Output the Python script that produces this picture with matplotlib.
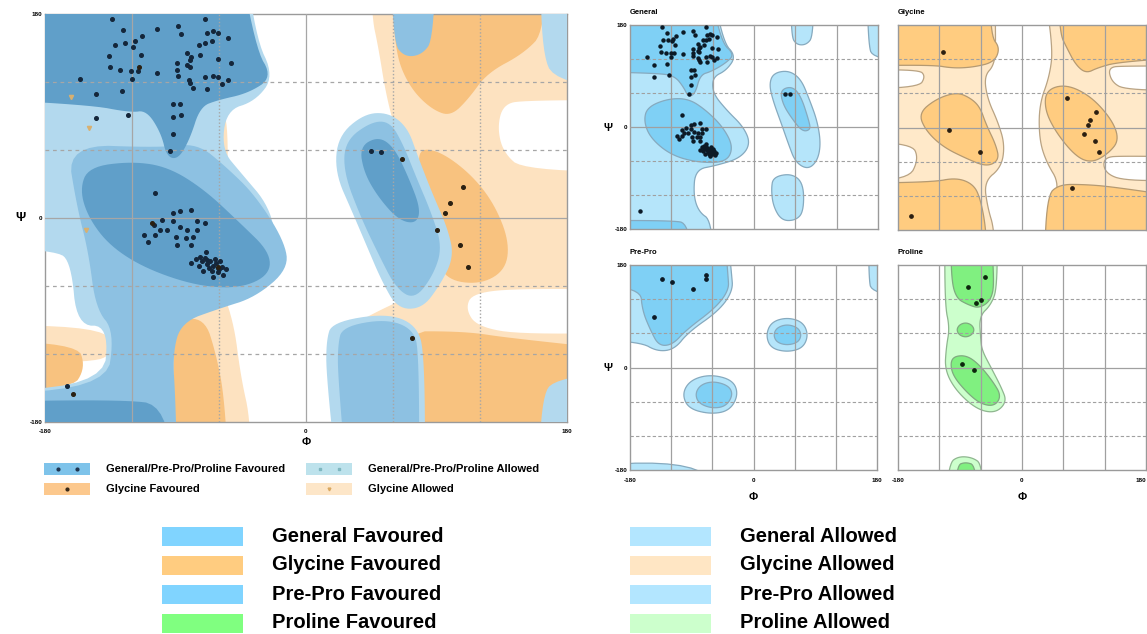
import numpy as np
import matplotlib
matplotlib.use('Agg')
import matplotlib.pyplot as plt
from matplotlib.patches import Rectangle
from matplotlib.lines import Line2D

plt.rcParams['font.family'] = ['Liberation Sans', 'DejaVu Sans']

W, H = 1147, 634

# ---------------- points (phi, psi) ----------------
main_gen_phi = [-134, -70, -126, -103, -88, -86, -68, -64, -61, -54, -113, -118, -125, -132, -119,
                -74, -70, -65, -82, -79, -80, -73, -61, -52, -136, -114, -89, -82, -80, -135,
                -128, -121, -116, -103, -89, -88, -81, -70, -64, -61, -54, -156, -120, -80, -58,
                -78, -68, -145, -127, -92, -87, -145, -123, -92, -86, -92, -94,
                -104, -87, -92, -79, -99, -92, -75, -70, -105, -101, -96, -87, -82, -75, -112,
                -104, -90, -83, -78, -109, -89, -79,
                -79, -73, -68, -61, -62, -64, -60, -66, -68, -63, -58, -65, -70, -72, -61, -67,
                -59, -74, -57, -69, -76, -64, -55, -71,
                45, 52, -165]
main_gen_psi = [176, 176, 166, 167, 169, 162, 163, 165, 163, 159, 161, 156, 154, 153, 151,
                153, 154, 156, 146, 142, 139, 144, 140, 137, 143, 144, 137, 135, 133, 133,
                131, 130, 130, 128, 131, 125, 122, 124, 125, 124, 122, 123, 123, 119, 118,
                115, 114, 109, 112, 101, 101, 88, 91, 89, 91, 74, 59,
                22, 6, 4, 7, -2, -3, -3, -4, -6, -11, -11, -8, -11, -11, -15,
                -15, -17, -18, -17, -21, -24, -24,
                -40, -34, -37, -44, -40, -42, -45, -38, -41, -36, -43, -47, -35, -38, -48, -44,
                -38, -42, -50, -30, -36, -52, -45, -47,
                59, 58, -148]

gly_phi = [66, 108, 99, 96, 90, 106, 112, 73, -115, -106, -61, -161]
gly_psi = [52, 27, 13, 4, -11, -24, -43, -106, 133, -4, -43, -155]

main_gly_allow_phi = [-162, -150, -152]
main_gly_allow_psi = [107, 79, -11]

prepro_phi = [-133, -119, -88, -69, -69, -145]
prepro_psi = [155, 150, 138, 162, 155, 89]

pro_phi = [-53, -79, -67, -59, -87, -69]
pro_psi = [159, 141, 113, 118, 6, -4]

# ---------------- regions (phi, psi outlines; 260 = beyond the frame) ----------------
main_gly_allowed = [
    [(45, 260), (260, 260), (260, -260), (22, -260), (20, -140), (25, -100), (45, -85), (70, -70),
     (88, -40), (85, 0), (75, 40), (62, 75), (55, 110), (50, 150), (45, 180)],
    [(-96, -55), (-62, -50), (-50, -90), (-45, -140), (-38, -180), (-38, -260), (-96, -260), (-98, -120)],
    [(-260, -95), (-138, -95), (-132, -120), (-150, -128), (-260, -128)],
    [(-63, 95), (-54, 95), (-54, 15), (-63, 15)],
]
main_white = [
    [(136, 100), (150, 104), (260, 104), (260, 40), (150, 42), (136, 58), (132, 80)],
    [(115, -66), (150, -62), (260, -64), (260, -100), (150, -103), (118, -96), (110, -80)],
]
main_gly_fav = [
    [(60, 260), (165, 260), (165, 165), (150, 145), (125, 128), (112, 105), (100, 90), (88, 95),
     (75, 110), (66, 130), (62, 150), (60, 180)],
    [(80, 62), (95, 57), (115, 37), (130, 12), (140, -20), (138, -45), (122, -58), (100, -56),
     (90, -40), (88, -10), (82, 25), (77, 50)],
    [(60, -100), (110, -100), (140, -106), (260, -122), (260, -260), (60, -260)],
    [(-90, -90), (-70, -88), (-62, -120), (-56, -160), (-52, -260), (-90, -260), (-92, -140)],
    [(-260, -108), (-158, -110), (-152, -132), (-162, -152), (-260, -152)],
]
main_blue_light = [
    [(-260, 260), (-45, 260), (-35, 160), (-22, 125), (-35, 103), (-55, 95), (-58, 60), (-45, 40),
     (-25, 10), (-20, -25), (-25, -50), (-45, -68), (-65, -78), (-88, -88), (-96, -120), (-94, -160),
     (-90, -260), (-260, -260), (-260, -152), (-140, -150), (-136, -95), (-158, -95), (-162, -40),
     (-172, -28), (-260, -25)],
    [(22, 72), (40, 92), (57, 93), (70, 80), (77, 55), (87, 22), (98, -10), (102, -35), (92, -60),
     (80, -80), (63, -80), (52, -55), (42, -25), (32, 5), (20, 40)],
    [(18, -92), (55, -84), (76, -94), (82, -120), (82, -260), (24, -260), (14, -140), (14, -108)],
    [(162, 260), (260, 260), (260, 110), (172, 118), (162, 150)],
    [(160, -260), (260, -260), (260, -130), (172, -140), (162, -160)],
]
main_blue_mid = [
    [(-165, 65), (-100, 62), (-75, 66), (-55, 45), (-35, 20), (-15, -20), (-12, -45), (-35, -70),
     (-60, -80), (-86, -92), (-92, -120), (-90, -160), (-88, -260), (-260, -260), (-260, -155),
     (-138, -152), (-132, -100), (-145, -80), (-150, -30), (-158, 10)],
    [(27, 68), (45, 85), (58, 85), (67, 65), (76, 36), (86, 6), (94, -25), (88, -50), (75, -72),
     (62, -62), (50, -32), (38, 0), (26, 40)],
    [(25, -96), (55, -89), (74, -98), (78, -120), (78, -260), (30, -260), (22, -140), (22, -112)],
    [(58, 260), (90, 260), (88, 158), (80, 144), (68, 142), (60, 155)],
]
main_blue_dark = [
    [(-260, 260), (-50, 260), (-35, 150), (-23, 124), (-40, 110), (-61, 104), (-73, 98), (-80, 70),
     (-88, 52), (-96, 54), (-100, 75), (-110, 95), (-121, 93), (-150, 100), (-260, 107)],
    [(-150, 45), (-120, 50), (-95, 45), (-70, 25), (-45, -5), (-25, -30), (-25, -50), (-45, -62),
     (-75, -60), (-110, -45), (-135, -25), (-150, 0), (-156, 25)],
    [(-260, -163), (-130, -160), (-95, -165), (-92, -260), (-260, -260)],
    [(37, 63), (50, 72), (61, 62), (71, 35), (79, 8), (76, -5), (64, -2), (50, 18), (40, 40)],
]

gen_allowed = [
    [(-260, 260), (-62, 260), (-45, 150), (-26, 125), (-40, 100), (-60, 88), (-60, 60), (-40, 30),
     (-15, 0), (-5, -30), (-20, -55), (-55, -68), (-85, -75), (-88, -120), (-80, -150), (-62, -165),
     (-58, -260), (-260, -260)],
    [(28, 95), (50, 100), (68, 85), (80, 50), (92, 10), (97, -30), (92, -60), (78, -75), (60, -62),
     (50, -30), (40, 5), (28, 45), (22, 75)],
    [(28, -88), (55, -82), (72, -100), (72, -150), (60, -165), (40, -165), (28, -140), (25, -110)],
    [(54, 260), (86, 260), (86, 160), (76, 145), (62, 145), (54, 160)],
    [(164, 260), (260, 260), (260, 115), (172, 120), (166, 150)],
]
gen_fav = [
    [(-260, 260), (-66, 260), (-48, 150), (-28, 128), (-42, 112), (-62, 98), (-78, 92), (-85, 60),
     (-95, 52), (-102, 70), (-115, 90), (-140, 95), (-260, 98)],
    [(-155, 35), (-125, 50), (-95, 50), (-70, 30), (-45, 0), (-30, -35), (-40, -62), (-80, -63),
     (-120, -50), (-150, -20), (-160, 10)],
    [(-260, -165), (-120, -165), (-95, -170), (-90, -260), (-260, -260)],
    [(38, 65), (55, 72), (68, 55), (80, 10), (82, -5), (70, -8), (55, 15), (42, 40)],
]

gly_allowed = [
    [(-260, 260), (-40, 260), (-38, 150), (-40, 110), (-55, 90), (-50, 50), (-35, 10), (-25, -30),
     (-30, -70), (-55, -95), (-50, -140), (-40, -180), (-40, -260), (-260, -260)],
    [(30, 260), (260, 260), (260, -260), (30, -260), (40, -150), (55, -100), (35, -60), (25, -20),
     (25, 40), (40, 90), (45, 140)],
]
gly_white = [
    [(-260, 100), (-150, 102), (-140, 90), (-150, 70), (-260, 68)],
    [(-260, -25), (-160, -28), (-150, -55), (-165, -92), (-260, -92)],
    [(125, 106), (150, 108), (260, 108), (260, 65), (150, 66), (130, 80)],
    [(118, -52), (150, -50), (260, -52), (260, -92), (150, -94), (120, -80)],
]
gly_fav = [
    [(-260, 260), (-47, 260), (-45, 160), (-32, 140), (-40, 115), (-70, 106), (-100, 104),
     (-130, 110), (-260, 108)],
    [(-95, 62), (-75, 52), (-61, 36), (-52, 5), (-38, -30), (-33, -57), (-51, -69), (-80, -55),
     (-115, -34), (-140, -5), (-150, 25), (-125, 50)],
    [(-260, -98), (-130, -96), (-95, -88), (-70, -100), (-60, -127), (-52, -180), (-50, -260), (-260, -260)],
    [(52, 260), (260, 260), (260, 125), (140, 115), (110, 105), (93, 95), (78, 110), (65, 140), (55, 165)],
    [(35, 66), (64, 76), (100, 55), (131, 13), (141, -22), (126, -45), (102, -62), (79, -52),
     (50, -10), (33, 31)],
    [(32, -260), (260, -260), (260, -127), (131, -104), (90, -100), (54, -100), (36, -120)],
]

pp_allowed = [
    [(-260, 260), (-40, 260), (-32, 165), (-30, 135), (-50, 100), (-95, 62), (-115, 32), (-140, 28),
     (-165, 45), (-260, 50)],
    [(49, 88), (72, 80), (80, 57), (72, 34), (49, 27), (25, 34), (18, 57), (26, 80)],
    [(-63, -12), (-30, -22), (-22, -48), (-35, -76), (-63, -82), (-95, -72), (-104, -46), (-92, -22)],
    [(-260, -168), (-60, -168), (-58, -260), (-260, -260)],
    [(168, 260), (260, 260), (260, 120), (172, 130), (168, 160)],
]
pp_fav = [
    [(-260, 260), (-44, 260), (-37, 160), (-36, 136), (-55, 105), (-98, 66), (-118, 40), (-138, 38),
     (-150, 65), (-162, 100), (-165, 140), (-260, 145)],
    [(49, 76), (65, 70), (70, 57), (65, 44), (49, 39), (34, 44), (29, 57), (34, 70)],
    [(-58, -24), (-36, -32), (-30, -48), (-40, -68), (-60, -72), (-80, -63), (-85, -46), (-77, -30)],
]

pro_allowed = [
    [(-112, 260), (-36, 260), (-36, 140), (-45, 110), (-62, 90), (-60, 50), (-58, 30), (-45, 0),
     (-30, -35), (-22, -60), (-38, -80), (-65, -74), (-95, -42), (-112, -5), (-110, 35), (-105, 70),
     (-112, 110)],
    [(-112, -260), (-55, -260), (-58, -170), (-72, -158), (-92, -156), (-106, -168)],
]
pro_fav = [
    [(-103, 260), (-47, 260), (-40, 150), (-45, 118), (-62, 104), (-78, 110), (-96, 122), (-103, 160)],
    [(-82, 79), (-73, 75), (-69, 66), (-73, 57), (-82, 53), (-91, 57), (-95, 66), (-91, 75)],
    [(-98, 20), (-80, 21), (-62, 5), (-42, -25), (-30, -50), (-40, -68), (-60, -64), (-80, -44),
     (-100, -15), (-104, 8)],
    [(-98, -260), (-64, -260), (-67, -172), (-82, -166), (-95, -172)],
]

# ---------------- helpers ----------------
def smooth(pts, n=3):
    p = np.asarray(pts, float)
    for _ in range(n):
        q = np.roll(p, -1, axis=0)
        p = np.stack([0.75 * p + 0.25 * q, 0.25 * p + 0.75 * q], axis=1).reshape(-1, 2)
    return p


def paint(ax, shapes, color, edge=None, z=1):
    for s in shapes:
        p = smooth(s)
        if edge is None:
            ax.fill(p[:, 0], p[:, 1], color=color, lw=0, zorder=z)
        else:
            ax.fill(p[:, 0], p[:, 1], facecolor=color, edgecolor=edge, lw=0.9, zorder=z)


def rect(l, t, r, b):
    return [l / W, 1 - b / H, (r - l) / W, (b - t) / H]


def fx(x):
    return x / W


def fy(y):
    return 1 - y / H


def frame(ax, xlab, ylab, small):
    ax.set_xlim(-180, 180)
    ax.set_ylim(-180, 180)
    for s in ax.spines.values():
        s.set_color('#9a9a9a')
        s.set_linewidth(1.0)
    ax.tick_params(axis='y', length=0, labelsize=4.5, pad=2)
    ax.tick_params(axis='x', length=0, labelsize=4.5, pad=6 if small else 5)
    if xlab:
        ax.set_xticks([-180, 0, 180])
        ax.set_xticklabels(['-180', '0', '180'], fontweight='bold')
    else:
        ax.set_xticks([])
    if ylab:
        ax.set_yticks([-180, 0, 180])
        ax.set_yticklabels(['-180', '0', '180'], fontweight='bold')
    else:
        ax.set_yticks([])
    for v in [-120, -60, 0, 60, 120]:
        if small:
            ax.axvline(v, color='#a0a0a0', lw=0.9, zorder=5)
            ax.axhline(v, color='#a0a0a0', lw=0.9 if v == 0 else 0.8,
                       ls='-' if v == 0 else (0, (3, 2)), zorder=5)
        else:
            ax.axvline(v, color='#a6a6a6', lw=0.9 if v in (0, -120) else 1.0,
                       ls='-' if v in (0, -120) else (0, (1, 1.5)), zorder=5)
            ax.axhline(v, color='#a6a6a6', lw=0.9, ls='-' if v == 0 else (0, (3, 3)), zorder=5)


fig = plt.figure(figsize=(W / 100, H / 100), dpi=100)

# ---------------- main panel ----------------
ax = fig.add_axes(rect(45, 14, 567, 422))
paint(ax, main_gly_allowed, '#FDE2C0', z=1)
paint(ax, main_white, 'white', z=1.5)
paint(ax, main_gly_fav, '#F8C27F', z=2)
paint(ax, main_blue_light, '#B3D9EE', z=3)
paint(ax, main_blue_mid, '#8DC1E2', z=4)
paint(ax, main_blue_dark, '#609FC9', z=4.5)
frame(ax, True, True, False)
ax.plot(main_gen_phi, main_gen_psi, 'o', ms=2.6, color='#14263a', zorder=8)
ax.plot(gly_phi, gly_psi, 'o', ms=2.6, color='#2a2012', zorder=8)
ax.plot(main_gly_allow_phi, main_gly_allow_psi, 'v', ms=3, color='#d8b070', zorder=8)
fig.text(fx(20), fy(218), 'Ψ', fontsize=9, fontweight='bold', ha='center', va='center')
fig.text(fx(306), fy(442), 'Φ', fontsize=8, fontweight='bold', ha='center', va='center')

# main legend
leg_rows = [
    ('General/Pre-Pro/Proline Favoured', '#7EC3EA', 'o', '#1f3550',
     'General/Pre-Pro/Proline Allowed', '#BDE2EC', 's', '#7fb7c0'),
    ('Glycine Favoured', '#FCC88D', 'o', '#3a2a18',
     'Glycine Allowed', '#FDE6C8', 'v', '#d9a860'),
]
for i, (t1, c1, m1, mc1, t2, c2, m2, mc2) in enumerate(leg_rows):
    yc = 469 + 20 * i
    for x0, t, c, m, mc in [(44, t1, c1, m1, mc1), (306, t2, c2, m2, mc2)]:
        fig.add_artist(Rectangle((fx(x0), fy(yc + 6)), 46 / W, 12 / H, transform=fig.transFigure,
                                 facecolor=c, edgecolor='none'))
        xs = [x0 + 14, x0 + 33] if i == 0 else [x0 + 23]
        fig.add_artist(Line2D([fx(x) for x in xs], [fy(yc)] * len(xs), transform=fig.transFigure,
                              ls='', marker=m, ms=2, color=mc))
        fig.text(fx(x0 + 62), fy(yc), t, fontsize=8, fontweight='bold', va='center', ha='left')

# ---------------- small panels ----------------
panels = [
    ('General', (630, 25, 878, 229), False, True),
    ('Glycine', (898, 25, 1146, 230), False, False),
    ('Pre-Pro', (630, 265, 877, 470), True, True),
    ('Proline', (898, 265, 1146, 470), True, False),
]
axs = {}
for name, (l, t, r, b), xl, yl in panels:
    a = fig.add_axes(rect(l, t, r, b))
    frame(a, xl, yl, True)
    fig.text(fx(l), fy(t - 12), name, fontsize=5.5, fontweight='bold', ha='left', va='center')
    axs[name] = a
axs['Proline'].get_xticklabels()[-1].set_horizontalalignment('right')

blue_edge = '#86aabf'
paint(axs['General'], gen_allowed, '#B5E5FA', blue_edge, z=1)
paint(axs['General'], gen_fav, '#7FD0F5', blue_edge, z=2)
axs['General'].plot(main_gen_phi, main_gen_psi, 'o', ms=2.2, color='#0c1a26', zorder=8)

paint(axs['Glycine'], gly_allowed, '#FFE9C9', '#b9a383', z=1)
paint(axs['Glycine'], gly_white, 'white', '#b9a383', z=1.5)
paint(axs['Glycine'], gly_fav, '#FFCC80', '#b59a72', z=2)
axs['Glycine'].plot(gly_phi, gly_psi, 'o', ms=2.4, color='#2b1e10', zorder=8)

paint(axs['Pre-Pro'], pp_allowed, '#B5E5FA', blue_edge, z=1)
paint(axs['Pre-Pro'], pp_fav, '#7FD0F5', blue_edge, z=2)
axs['Pre-Pro'].plot(prepro_phi, prepro_psi, 'o', ms=2.4, color='#0c1a26', zorder=8)

paint(axs['Proline'], pro_allowed, '#CCFFCC', '#8fb68f', z=1)
paint(axs['Proline'], pro_fav, '#80F080', '#7faa7f', z=2)
axs['Proline'].plot(pro_phi, pro_psi, 'o', ms=2.4, color='#0c260c', zorder=8)

for yc in (128, 368):
    fig.text(fx(608), fy(yc), 'Ψ', fontsize=8, fontweight='bold', ha='center', va='center')
for xc in (753, 1022):
    fig.text(fx(xc), fy(497), 'Φ', fontsize=8, fontweight='bold', ha='center', va='center')

# ---------------- bottom legend ----------------
leg_fav = ['General Favoured', 'Glycine Favoured', 'Pre-Pro Favoured', 'Proline Favoured']
leg_all = ['General Allowed', 'Glycine Allowed', 'Pre-Pro Allowed', 'Proline Allowed']
col_fav = ['#80D4FF', '#FFCC80', '#80D4FF', '#80FF80']
col_all = ['#B3E6FF', '#FFE6C4', '#B3E6FF', '#CCFFCC']
for i in range(4):
    yc = 536 + 29 * i
    for x0, xt, lab, c in [(162, 272, leg_fav[i], col_fav[i]), (630, 740, leg_all[i], col_all[i])]:
        fig.add_artist(Rectangle((fx(x0), fy(yc + 9.5)), 81 / W, 19 / H, transform=fig.transFigure,
                                 facecolor=c, edgecolor='none'))
        fig.text(fx(xt), fy(yc), lab, fontsize=14.5, fontweight='bold', va='center', ha='left')

fig.savefig('out.png', dpi=100)
